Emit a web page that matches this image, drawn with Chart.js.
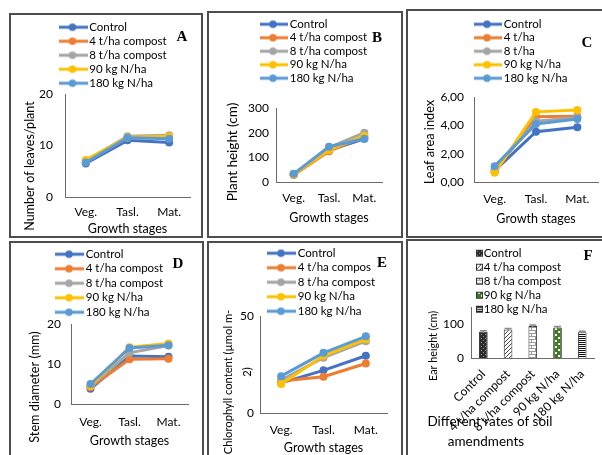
<!DOCTYPE html>
<html><head><meta charset="utf-8">
<script src="https://cdn.jsdelivr.net/npm/chart.js@4.4.1/dist/chart.umd.min.js"></script>
<style>
html,body{margin:0;padding:0;background:#fff;}
body{width:602px;height:455px;position:relative;overflow:hidden;}
.frame{position:absolute;border:2px solid #4d4d4d;box-sizing:border-box;}
canvas{position:absolute;}
</style></head><body>
<script>
// ---------------- DATA ----------------
const stages = ['Veg.', 'Tasl.', 'Mat.'];
const namesFull = ['Control', '4 t/ha compost', '8 t/ha compost', '90 kg N/ha', '180 kg N/ha'];
const namesShort = ['Control', '4 t/ha', '8 t/ha', '90 kg N/ha', '180 kg N/ha'];
const namesE = ['Control', '4 t/ha compos', '8 t/ha compost', '90 kg N/ha', '180 kg N/ha'];
const seriesColors = ['#4472C4', '#ED7D31', '#A5A5A5', '#FFC000', '#5B9BD5'];

// series order: Control, 4 t/ha, 8 t/ha, 90 kg N/ha, 180 kg N/ha
const leavesPerPlant = [[6.5, 11.0, 10.6], [6.8, 11.5, 11.5], [7.0, 11.8, 12.0], [7.2, 11.6, 11.8], [6.7, 11.5, 11.3]];
const plantHeight = [[30, 128, 175], [28, 125, 185], [32, 140, 200], [30, 130, 188], [33, 143, 175]];
const leafAreaIndex = [[0.80, 3.55, 3.87], [0.70, 4.60, 4.65], [0.90, 4.30, 4.55], [0.65, 4.95, 5.08], [1.12, 4.10, 4.45]];
const stemDiameter = [[3.8, 12.0, 11.8], [4.2, 11.2, 11.3], [4.5, 12.8, 14.6], [4.5, 14.2, 15.1], [5.0, 14.0, 14.7]];
const chlorophyll = [[15.5, 22.0, 29.5], [16.5, 18.7, 25.5], [17.0, 28.5, 37.0], [15.0, 29.5, 38.0], [19.0, 31.0, 39.5]];
const earHeight = [77, 84, 94, 90, 76];
const earHeightErr = [3, 3, 3, 3, 3];

const ticksA = ['0', '10', '20'];
const ticksB = ['0', '100', '200', '300'];
const ticksC = ['0,00', '2,00', '4,00', '6,00'];
const ticksD = ['0', '10', '20'];
const ticksE = ['0', '50'];
const ticksF = ['0', '50', '100', '150'];

// ---------------- SETUP ----------------
Chart.defaults.font.family = "Lato, 'Liberation Sans', sans-serif";
Chart.defaults.color = '#000';
Chart.defaults.animation = false;

const AXIS = '#6b6b6b';

function frame(x, y, w, h) {
  const d = document.createElement('div');
  d.className = 'frame';
  Object.assign(d.style, {left: x + 'px', top: y + 'px', width: w + 'px', height: h + 'px'});
  document.body.appendChild(d);
}
function makeCanvas(r) {
  const c = document.createElement('canvas');
  c.width = r.w; c.height = r.h;
  c.style.left = r.x + 'px'; c.style.top = r.y + 'px';
  document.body.appendChild(c);
  return c;
}
function lineIcon(color) {
  const c = document.createElement('canvas'); c.width = 30; c.height = 10;
  const g = c.getContext('2d');
  g.strokeStyle = color; g.lineWidth = 3;
  g.beginPath(); g.moveTo(0, 5); g.lineTo(30, 5); g.stroke();
  g.fillStyle = color; g.beginPath(); g.arc(15, 5, 3.8, 0, Math.PI * 2); g.fill();
  return c;
}
function tile(w, h, draw) {
  const c = document.createElement('canvas'); c.width = w; c.height = h;
  draw(c.getContext('2d')); return c;
}
function tf(size) { return size + "px Lato, 'Liberation Sans', sans-serif"; }

const freeText = {
  id: 'freeText',
  afterDraw(chart, args, o) {
    const ctx = chart.ctx;
    (o.items || []).forEach(it => {
      ctx.save();
      ctx.font = it.font;
      ctx.fillStyle = '#000';
      ctx.textAlign = 'center';
      ctx.textBaseline = 'middle';
      ctx.translate(it.x, it.y);
      if (it.rot) ctx.rotate(it.rot * Math.PI / 180);
      ctx.fillText(it.text, 0, 0);
      ctx.restore();
    });
  }
};

const legendPlacer = {
  id: 'legendPlacer',
  beforeLayout(chart) {
    const lg = chart.legend;
    if (lg && !lg.__patched) {
      const orig = lg.fit;
      lg.fit = function () {
        orig.call(this);
        this.width = 0; this.height = 0;
      };
      lg.__patched = true;
    }
  },
  afterLayout(chart, args, o) {
    const lg = chart.legend;
    if (!lg) return;
    lg.left = o.x; lg.top = o.y;
    lg.width = 190; lg.height = 150;
    lg.right = lg.left + lg.width; lg.bottom = lg.top + lg.height;
  }
};

const errorBars = {
  id: 'errorBars',
  afterDatasetsDraw(chart, args, o) {
    if (!o.errors) return;
    const meta = chart.getDatasetMeta(0), ys = chart.scales.y, ctx = chart.ctx;
    const vals = chart.data.datasets[0].data;
    ctx.save();
    ctx.strokeStyle = '#8c8c8c'; ctx.lineWidth = 1.5;
    meta.data.forEach((bar, i) => {
      const top = ys.getPixelForValue(vals[i] + o.errors[i]);
      const bot = ys.getPixelForValue(vals[i] - o.errors[i]);
      ctx.beginPath();
      ctx.moveTo(bar.x, bot); ctx.lineTo(bar.x, top);
      ctx.moveTo(bar.x - 3.5, top); ctx.lineTo(bar.x + 3.5, top);
      ctx.stroke();
    });
    ctx.restore();
  }
};

const letterFont = "bold 15px 'Liberation Serif', 'Times New Roman', serif";
const LEG = 11.5;

function lineChart(p) {
  const r = p.rect;
  const cv = makeCanvas(r);
  const items = p.texts.map(t => Object.assign({}, t, {x: t.x - r.x, y: t.y - r.y}));
  return new Chart(cv, {
    type: 'line',
    data: {
      labels: stages,
      datasets: p.data.map((vals, i) => ({
        label: p.names[i],
        data: vals,
        borderColor: seriesColors[i],
        backgroundColor: seriesColors[i],
        pointBackgroundColor: seriesColors[i],
        pointBorderColor: seriesColors[i],
        borderWidth: 3,
        pointRadius: 4,
        pointBorderWidth: 0,
        tension: 0,
        order: -i
      }))
    },
    options: {
      responsive: false,
      devicePixelRatio: 1,
      events: [],
      layout: {padding: {left: 0, right: p.padR, top: p.padT, bottom: 0}},
      scales: {
        x: {
          offset: true,
          grid: {display: false, drawTicks: false},
          border: {display: true, color: AXIS, width: 1},
          ticks: {padding: p.xPad, font: {size: 12}, color: '#000', maxRotation: 0, autoSkip: false},
          title: {display: true, text: 'Growth stages', font: {size: 12.5}, color: '#000', padding: {top: 0, bottom: p.titlePB}},
          afterFit(s) { s.height = p.xH; }
        },
        y: {
          min: p.yMin, max: p.yMax,
          grid: {display: false, drawTicks: false},
          border: {display: true, color: AXIS, width: 1},
          ticks: {stepSize: p.step, padding: p.yPad, font: {size: 12}, color: '#000',
                  callback: (v, i) => p.ticks[i]},
          afterFit(s) { s.width = p.yW; }
        }
      },
      plugins: {
        tooltip: {enabled: false},
        legend: {
          position: 'left', align: 'start',
          labels: {
            usePointStyle: true, pointStyleWidth: 22, padding: p.legend.pad + (12 - LEG),
            font: {size: LEG}, color: '#000',
            generateLabels: chart => chart.data.datasets.map((ds, i) => ({
              text: ds.label, pointStyle: lineIcon(ds.borderColor), datasetIndex: i,
              hidden: false, fontColor: '#000', lineWidth: 0,
              strokeStyle: 'rgba(0,0,0,0)', fillStyle: 'rgba(0,0,0,0)'
            }))
          }
        },
        legendPlacer: {x: p.legend.x - r.x, y: p.legend.y - r.y},
        freeText: {items}
      }
    },
    plugins: [legendPlacer, freeText]
  });
}

// ---------------- FRAMES ----------------
frame(9, 13, 194, 225);
frame(207, 11, 196, 227);
frame(406, 9, 200, 229);
frame(9, 241, 195, 220);
frame(207, 241, 196, 220);
frame(406, 239, 200, 220);

// ---------------- PANELS ----------------
lineChart({
  rect: {x: 10, y: 14, w: 192, h: 223}, names: namesFull, data: leavesPerPlant,
  yMin: 0, yMax: 20, step: 10, ticks: ticksA,
  yW: 55, yPad: 12, padR: 12, padT: 80, xH: 40, xPad: 8, titlePB: 1,
  legend: {x: 59, y: 19, pad: 2},
  texts: [
    {text: 'A', x: 182, y: 37, font: letterFont},
    {text: 'Number of leaves/plant', x: 30, y: 166, rot: -90, font: tf(12.5)}
  ]
});

lineChart({
  rect: {x: 208, y: 12, w: 194, h: 225}, names: namesFull, data: plantHeight,
  yMin: 0, yMax: 300, step: 100, ticks: ticksB,
  yW: 68, yPad: 7, padR: 20, padT: 96, xH: 55, xPad: 9, titlePB: 12,
  legend: {x: 260, y: 16.5, pad: 1.5},
  texts: [
    {text: 'B', x: 377, y: 38, font: letterFont},
    {text: 'Plant height (cm)', x: 233, y: 152, rot: -90, font: tf(13.5)}
  ]
});

lineChart({
  rect: {x: 407, y: 10, w: 195, h: 227}, names: namesShort, data: leafAreaIndex,
  yMin: 0, yMax: 6, step: 2, ticks: ticksC,
  yW: 67, yPad: 10, padR: 2, padT: 87, xH: 55, xPad: 10, titlePB: 11,
  legend: {x: 474, y: 16.5, pad: 1.5},
  texts: [
    {text: 'C', x: 587, y: 43, font: letterFont},
    {text: 'Leaf area index', x: 430, y: 142, rot: -90, font: tf(12.8)}
  ]
});

lineChart({
  rect: {x: 10, y: 242, w: 193, h: 213}, names: namesFull, data: stemDiameter,
  yMin: 0, yMax: 20, step: 10, ticks: ticksD,
  yW: 61, yPad: 10, padR: 15, padT: 82, xH: 51, xPad: 11, titlePB: 7,
  legend: {x: 55, y: 245.5, pad: 2.5},
  texts: [
    {text: 'D', x: 178, y: 264, font: letterFont},
    {text: 'Stem diameter (mm)', x: 35, y: 387, rot: -90, font: tf(12.7)}
  ]
});

lineChart({
  rect: {x: 208, y: 242, w: 194, h: 213}, names: namesE, data: chlorophyll,
  yMin: 0, yMax: 50, step: 50, ticks: ticksE,
  yW: 52, yPad: 6, padR: 15, padT: 74, xH: 42, xPad: 10, titlePB: 0,
  legend: {x: 267, y: 244.5, pad: 2.5},
  texts: [
    {text: 'E', x: 382, y: 263, font: letterFont},
    {text: 'Chlorophyll content (\u00b5mol m-', x: 228, y: 382, rot: -90, font: tf(11.2)},
    {text: '2)', x: 247, y: 372, rot: -90, font: tf(11.2)}
  ]
});

// ---------------- PANEL F (bars) ----------------
(function () {
  const r = {x: 407, y: 240, w: 195, h: 215};
  const cv = makeCanvas(r);
  const tiles = [
    tile(4, 4, g => { g.fillStyle = '#2a2a2a'; g.fillRect(0, 0, 4, 4); g.fillStyle = '#9a9a9a'; g.fillRect(0, 0, 1, 1); g.fillRect(2, 2, 1, 1); }),
    tile(4, 4, g => { g.fillStyle = '#fff'; g.fillRect(0, 0, 4, 4); g.fillStyle = '#444'; for (let i = 0; i < 4; i++) g.fillRect(i, 3 - i, 1, 1); }),
    tile(8, 6, g => { g.fillStyle = '#fff'; g.fillRect(0, 0, 8, 6); g.fillStyle = '#9a9a9a'; g.fillRect(0, 0, 8, 1); g.fillRect(0, 3, 8, 1); g.fillRect(0, 0, 1, 3); g.fillRect(4, 3, 1, 3); }),
    tile(6, 6, g => { g.fillStyle = '#3d7a22'; g.fillRect(0, 0, 6, 6); g.fillStyle = '#fff'; g.fillRect(1, 1, 2, 2); g.fillRect(4, 4, 2, 2); }),
    tile(2, 2, g => { g.fillStyle = '#fff'; g.fillRect(0, 0, 2, 2); g.fillStyle = '#111'; g.fillRect(0, 0, 2, 1); })
  ];
  const pctx = document.createElement('canvas').getContext('2d');
  const patterns = tiles.map(t => pctx.createPattern(t, 'repeat'));
  function squareIcon(pat) {
    const c = document.createElement('canvas'); c.width = 13; c.height = 9;
    const g = c.getContext('2d');
    g.fillStyle = pat; g.fillRect(5, 1, 7, 7);
    g.strokeStyle = '#333'; g.lineWidth = 1; g.strokeRect(5.5, 1.5, 6, 6);
    return c;
  }
  const items = [
    {text: 'F', x: 588, y: 256, font: letterFont},
    {text: 'Ear height (cm)', x: 434, y: 346, rot: -90, font: tf(10.8)},
    {text: 'Different rates of soil', x: 490, y: 422, font: tf(13.5)},
    {text: 'amendments', x: 486, y: 442, font: tf(13.5)}
  ].map(t => Object.assign({}, t, {x: t.x - r.x, y: t.y - r.y}));

  new Chart(cv, {
    type: 'bar',
    data: {
      labels: namesFull,
      datasets: [{
        label: 'Ear height',
        data: earHeight,
        backgroundColor: patterns,
        borderColor: '#333',
        borderWidth: 1,
        barPercentage: 0.35,
        categoryPercentage: 1
      }]
    },
    options: {
      responsive: false,
      devicePixelRatio: 1,
      events: [],
      layout: {padding: {left: 0, right: 6, top: 67, bottom: 0}},
      scales: {
        x: {
          grid: {display: false, drawTicks: false},
          border: {display: true, color: AXIS, width: 1},
          ticks: {padding: 9, font: {size: 12}, color: '#000', minRotation: 45, maxRotation: 45, autoSkip: false},
          afterFit(s) { s.height = 97; }
        },
        y: {
          min: 0, max: 150,
          grid: {display: false, drawTicks: false},
          border: {display: true, color: AXIS, width: 1},
          ticks: {stepSize: 50, padding: 7, font: {size: 12}, color: '#000', callback: (v, i) => ticksF[i]},
          afterFit(s) { s.width = 64; }
        }
      },
      plugins: {
        tooltip: {enabled: false},
        legend: {
          position: 'left', align: 'start',
          labels: {
            usePointStyle: true, pointStyleWidth: 1, padding: 2.5,
            font: {size: LEG}, color: '#000',
            generateLabels: chart => chart.data.labels.map((lab, i) => ({
              text: lab, pointStyle: squareIcon(patterns[i]), datasetIndex: 0, index: i,
              hidden: false, fontColor: '#000', lineWidth: 0,
              strokeStyle: 'rgba(0,0,0,0)', fillStyle: 'rgba(0,0,0,0)'
            }))
          }
        },
        legendPlacer: {x: 474.5 - r.x, y: 245 - r.y},
        errorBars: {errors: earHeightErr},
        freeText: {items}
      }
    },
    plugins: [legendPlacer, errorBars, freeText]
  });
})();
</script>
</body></html>
